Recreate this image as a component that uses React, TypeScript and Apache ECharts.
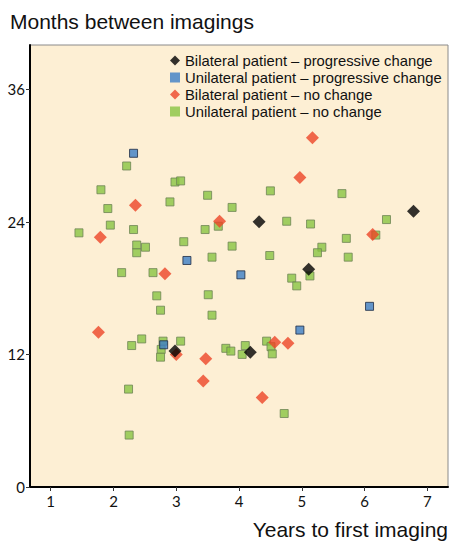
import React, { useEffect, useRef } from "react";
import * as echarts from "echarts";

const seriesNames = [
  "Bilateral patient – progressive change",
  "Unilateral patient – progressive change",
  "Bilateral patient – no change",
  "Unilateral patient – no change",
];

const bilateralProgressive: number[][] = [
  [4.32, 24.0], [6.78, 24.95], [5.11, 19.7], [2.98, 12.3], [4.18, 12.2],
];

const unilateralProgressive: number[][] = [
  [2.32, 30.2], [3.17, 20.5], [4.03, 19.2], [6.08, 16.35], [4.97, 14.2], [2.8, 12.87],
];

const bilateralNoChange: number[][] = [
  [5.17, 31.6], [4.97, 28.0], [2.35, 25.5], [1.79, 22.6], [3.69, 24.05], [6.13, 22.85],
  [2.82, 19.3], [1.76, 14.0], [3.0, 12.0], [3.47, 11.6], [4.57, 13.1], [4.78, 13.0],
  [3.43, 9.6], [4.37, 8.1],
];

const unilateralNoChange: number[][] = [
  [2.21, 29.05], [1.8, 26.9], [1.91, 25.2], [1.95, 23.7], [1.45, 23.0], [2.32, 23.3],
  [2.37, 21.9], [2.51, 21.7], [2.37, 21.2], [2.13, 19.4], [2.63, 19.4],
  [2.98, 27.6], [3.07, 27.7], [4.5, 26.8], [2.9, 25.8], [3.5, 26.4], [3.89, 25.3],
  [3.67, 23.6], [4.76, 24.05], [3.46, 23.3], [3.12, 22.2], [3.89, 21.8], [3.57, 20.8],
  [4.49, 20.95], [4.84, 18.9], [4.92, 18.2],
  [5.64, 26.55], [6.35, 24.2], [5.14, 23.8], [6.18, 22.8], [5.71, 22.5], [5.32, 21.7],
  [5.25, 21.2], [5.74, 20.8], [5.13, 19.1],
  [2.69, 17.3], [2.75, 16.0], [2.45, 13.4], [2.29, 12.8], [2.79, 13.2], [2.76, 12.45],
  [2.75, 11.75], [2.24, 8.86], [2.25, 4.7],
  [3.51, 17.4], [3.57, 15.55], [3.07, 13.2], [3.79, 12.55], [3.87, 12.3], [4.1, 12.8],
  [4.05, 12.0], [4.44, 13.2], [4.51, 12.7], [4.53, 12.05], [4.72, 6.65],
];

const xTicks = [1, 2, 3, 4, 5, 6, 7];
const yTicks = [0, 12, 24, 36];

export default function App() {
  const ref = useRef<HTMLDivElement>(null);
  useEffect(() => {
    if (!ref.current) return;
    const chart = echarts.init(ref.current, undefined, { renderer: "svg" });
    const sans = "'Liberation Sans', Arial, sans-serif";
    const tickFont = "Lato, 'Open Sans', sans-serif";
    chart.setOption({
      animation: false,
      backgroundColor: "#ffffff",
      title: {
        text: "Months between imagings",
        left: 5,
        top: 6,
        textStyle: { fontFamily: sans, fontSize: 21, fontWeight: "normal", color: "#111" },
      },
      graphic: [
        {
          type: "text",
          right: 4,
          top: 519,
          style: { text: "Years to first imaging", font: `21px ${sans}`, fill: "#111" },
        },
      ],
      legend: {
        orient: "vertical",
        left: 165,
        top: 48,
        itemWidth: 10,
        itemHeight: 10,
        itemGap: 2,
        textStyle: { fontFamily: sans, fontSize: 14.8, color: "#111", lineHeight: 14.5 },
        data: [
          { name: seriesNames[0], icon: "diamond" },
          { name: seriesNames[1], icon: "rect", itemStyle: { borderWidth: 0 } },
          { name: seriesNames[2], icon: "diamond" },
          { name: seriesNames[3], icon: "rect", itemStyle: { borderWidth: 0 } },
        ],
      },
      grid: {
        left: 30,
        right: 4,
        top: 45,
        bottom: 55,
        show: true,
        backgroundColor: "#FDEFD4",
        borderColor: "#8a8a8a",
        borderWidth: 1,
      },
      xAxis: {
        type: "value",
        min: 0.67,
        max: 7.33,
        axisLine: { show: true, onZero: false, lineStyle: { color: "#000", width: 2 } },
        axisTick: { show: true, length: 4, customValues: xTicks, lineStyle: { color: "#333" } },
        axisLabel: {
          customValues: xTicks,
          margin: 6,
          fontFamily: tickFont,
          fontSize: 15,
          color: "#111",
        },
        splitLine: { show: false },
      },
      yAxis: {
        type: "value",
        min: 0,
        max: 40,
        axisLine: { show: true, lineStyle: { color: "#000", width: 2 } },
        axisTick: { show: true, length: 4, customValues: yTicks, lineStyle: { color: "#333" } },
        axisLabel: {
          customValues: yTicks,
          margin: 5,
          fontFamily: tickFont,
          fontSize: 15,
          color: "#111",
        },
        splitLine: { show: false },
      },
      series: [
        {
          name: seriesNames[0],
          type: "scatter",
          symbol: "diamond",
          symbolSize: 13,
          z: 5,
          itemStyle: { color: "#000000" },
          data: bilateralProgressive,
        },
        {
          name: seriesNames[1],
          type: "scatter",
          symbol: "rect",
          symbolSize: 8,
          z: 4,
          itemStyle: { color: "#3C7EC6", borderColor: "#1d2b44", borderWidth: 1 },
          data: unilateralProgressive,
        },
        {
          name: seriesNames[2],
          type: "scatter",
          symbol: "diamond",
          symbolSize: 13,
          z: 3,
          itemStyle: { color: "#EC4527" },
          data: bilateralNoChange,
        },
        {
          name: seriesNames[3],
          type: "scatter",
          symbol: "rect",
          symbolSize: 8,
          z: 2,
          itemStyle: { color: "#88C442", borderColor: "#6e8455", borderWidth: 1 },
          data: unilateralNoChange,
        },
      ],
    });
    return () => chart.dispose();
  }, []);
  return <div ref={ref} style={{ width: 452, height: 542, position: "absolute", left: 0, top: 0 }} />;
}
